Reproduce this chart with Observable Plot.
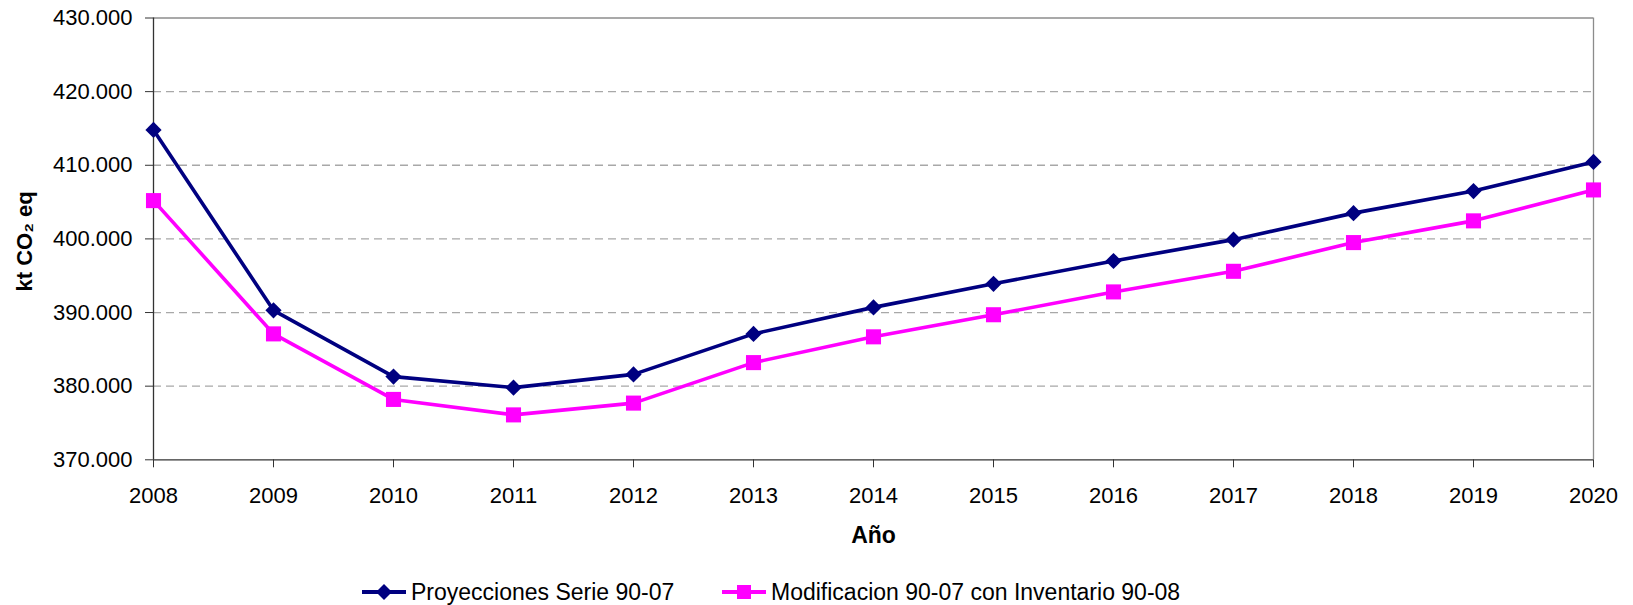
<!DOCTYPE html>
<html><head><meta charset="utf-8">
<script src="https://cdn.jsdelivr.net/npm/d3@7"></script>
<script src="https://cdn.jsdelivr.net/npm/@observablehq/plot@0.6"></script>
<style>
body{margin:0;background:#fff;font-family:"Liberation Sans",Arial,sans-serif;}
#wrap{position:relative;width:1633px;height:605px;overflow:hidden;background:#fff}
#legend{position:absolute;left:362px;top:576px;height:32px;display:flex;align-items:center;font-size:23px;color:#000;white-space:nowrap}
.item{display:flex;align-items:center}
.item svg{margin-right:5px}
</style></head><body><div id="wrap"><div id="chart"></div><div id="legend"></div></div>
<script>
const years = [2008, 2009, 2010, 2011, 2012, 2013, 2014, 2015, 2016, 2017, 2018, 2019, 2020];
const proyecciones = [414800, 390300, 381300, 379800, 381600, 387100, 390700, 393900, 397000, 399900, 403500, 406500, 410450];
const modificacion = [405200, 387100, 378200, 376100, 377700, 383200, 386700, 389700, 392800, 395600, 399500, 402450, 406650];
const seriesNames = ["Proyecciones Serie 90-07", "Modificacion 90-07 con Inventario 90-08"];
const seriesColors = ["#000080", "#ff00ff"];
const yTicks = [370000, 380000, 390000, 400000, 410000, 420000, 430000];
const gridValues = [380000, 390000, 400000, 410000, 420000];
const yLabel = "kt CO\u2082 eq";
const xLabel = "Año";

const rows = [];
years.forEach((yr, i) => {
  rows.push({year: yr, value: proyecciones[i], series: seriesNames[0]});
  rows.push({year: yr, value: modificacion[i], series: seriesNames[1]});
});
const fmt = d3.formatLocale({decimal: ",", thousands: ".", grouping: [3], currency: ["", ""]}).format(",d");

const chart = Plot.plot({
  width: 1633, height: 565,
  marginLeft: 153, marginRight: 40, marginTop: 17.5, marginBottom: 105.7,
  style: {fontFamily: "'Liberation Sans', Arial, sans-serif", background: "#fff", color: "#000"},
  x: {domain: [2008, 2020]},
  y: {domain: [370000, 430000]},
  color: {domain: seriesNames, range: seriesColors},
  marks: [
    Plot.gridY(gridValues, {stroke: "#a8a8a8", strokeOpacity: 1, strokeDasharray: "8,5", strokeWidth: 1.3}),
    Plot.ruleY([430000], {stroke: "#8c8c8c", strokeWidth: 1.3}),
    Plot.ruleX([2020], {stroke: "#8c8c8c", strokeWidth: 1.3}),
    Plot.axisY(yTicks, {tickFormat: fmt, tickSize: 8, tickPadding: 13, fontSize: 22, label: null, stroke: "#333"}),
    Plot.axisX(years, {tickFormat: d => String(d), tickSize: 8, tickPadding: 20, fontSize: 22, label: null, stroke: "#333"}),
    Plot.ruleX([2008], {stroke: "#333", strokeWidth: 1.3}),
    Plot.ruleY([370000], {stroke: "#333", strokeWidth: 1.3}),
    Plot.line(rows, {x: "year", y: "value", z: "series", stroke: "series", strokeWidth: 3.6}),
    Plot.dot(rows.filter(d => d.series === seriesNames[0]), {x: "year", y: "value", symbol: "diamond2", fill: "series", r: 7.3, stroke: "none"}),
    Plot.dot(rows.filter(d => d.series === seriesNames[1]), {x: "year", y: "value", symbol: "square", fill: "series", r: 8.5, stroke: "none"}),
    Plot.text([yLabel], {frameAnchor: "left", dx: -129, dy: 2.5, rotate: -90, fontSize: 22, fontWeight: "bold", textAnchor: "middle", lineAnchor: "middle"}),
    Plot.text([xLabel], {frameAnchor: "bottom", dy: 75.7, fontSize: 23, fontWeight: "bold", textAnchor: "middle", lineAnchor: "middle"})
  ]
});
document.getElementById("chart").appendChild(chart);

const legend = document.getElementById("legend");
const widths = [360, null];
seriesNames.forEach((name, i) => {
  const item = document.createElement("div");
  item.className = "item";
  if (widths[i]) item.style.width = widths[i] + "px";
  const c = seriesColors[i];
  const marker = i === 0
    ? `<polygon points="22,2 30,10 22,18 14,10" fill="${c}"/>`
    : `<rect x="15" y="3" width="14" height="14" fill="${c}"/>`;
  item.innerHTML = `<svg width="44" height="20" viewBox="0 0 44 20"><line x1="0" y1="10" x2="44" y2="10" stroke="${c}" stroke-width="4"/>${marker}</svg><span>${name}</span>`;
  legend.appendChild(item);
});
</script>
</body></html>
